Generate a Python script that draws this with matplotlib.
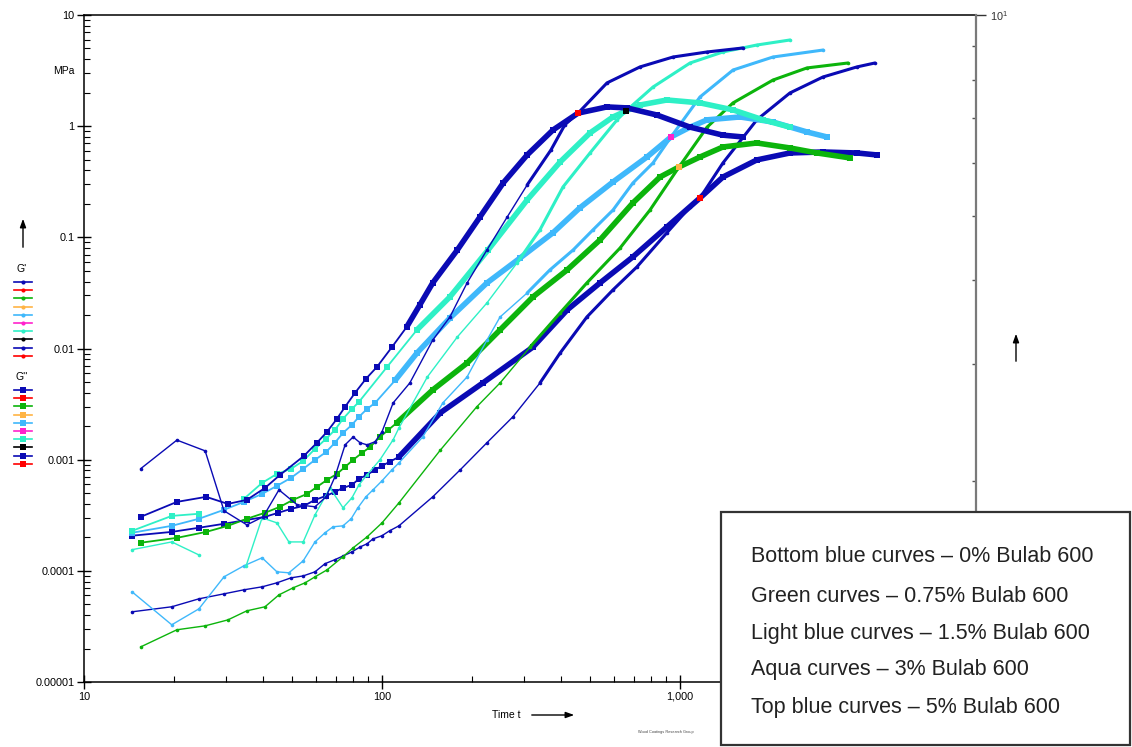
import numpy as np
import matplotlib
matplotlib.use('Agg')
import matplotlib.pyplot as plt
from matplotlib.lines import Line2D
from matplotlib.patches import Rectangle

plt.rcParams['font.family'] = ['Liberation Sans', 'DejaVu Sans']
plt.rcParams['mathtext.default'] = 'regular'

DARK_BLUE = '#0a0ab4'
GREEN = '#0cb40c'
LIGHT_BLUE = '#3fb8fb'
AQUA = '#2ef0c6'

# ---- 0% Bulab 600 (bottom blue) ----
t_0_Gp = [14.5, 19.7, 24.3, 29.5, 34.4, 39.6, 44.4, 49.5, 54.4, 59.6, 64.4, 69.5, 74.0, 79.3,
          84.4, 89.1, 93.3, 100, 106, 114, 148, 183, 225, 275, 339, 396, 487, 596, 717, 904,
          1081, 1167, 1394, 1811, 2339, 3020, 3923, 4508]
G_0_Gp = [4.28e-5, 4.75e-5, 5.6e-5, 6.21e-5, 6.75e-5, 7.18e-5, 7.8e-5, 8.65e-5, 9.0e-5, 9.8e-5,
          1.16e-4, 1.26e-4, 1.36e-4, 1.48e-4, 1.64e-4, 1.75e-4, 1.94e-4, 2.07e-4, 2.29e-4, 2.54e-4,
          4.63e-4, 8.1e-4, 1.42e-3, 2.43e-3, 4.9e-3, 9.1e-3, 0.0192, 0.0337, 0.0542, 0.110,
          0.188, 0.226, 0.467, 1.14, 1.99, 2.77, 3.41, 3.70]
t_0_Gpp = [14.5, 19.7, 24.3, 29.5, 35.2, 40.5, 44.9, 49.5, 54.7, 59.6, 64.9, 69.5, 74.0, 79.3,
           83.7, 89.1, 94.8, 100, 106, 114, 157, 218, 321, 418, 539, 695, 904, 1167, 1394, 1811,
           2339, 3020, 3923, 4577]
G_0_Gpp = [2.07e-4, 2.24e-4, 2.44e-4, 2.65e-4, 2.87e-4, 3.06e-4, 3.33e-4, 3.61e-4, 3.84e-4, 4.35e-4,
           4.72e-4, 5.13e-4, 5.57e-4, 5.93e-4, 6.72e-4, 7.3e-4, 8.1e-4, 8.8e-4, 9.55e-4, 1.06e-3,
           2.64e-3, 4.9e-3, 0.0103, 0.0222, 0.0389, 0.0667, 0.124, 0.226, 0.349, 0.497,
           0.574, 0.586, 0.574, 0.551]

# ---- 0.75% Bulab 600 (green) ----
t_075_Gp = [15.5, 20.5, 25.5, 30.4, 35.2, 40.5, 45.1, 50.3, 55.2, 59.6, 65.4, 74.0, 80.0, 89.1,
            100, 114, 157, 208, 249, 314, 396, 487, 629, 793, 993, 1233, 1507, 2052, 2667, 3661]
G_075_Gp = [2.07e-5, 2.95e-5, 3.2e-5, 3.62e-5, 4.37e-5, 4.75e-5, 6.08e-5, 7.03e-5, 7.8e-5, 8.83e-5,
            1.02e-4, 1.34e-4, 1.61e-4, 2.02e-4, 2.7e-4, 4.09e-4, 1.22e-3, 2.99e-3, 4.9e-3, 0.0103,
            0.0209, 0.0389, 0.080, 0.176, 0.430, 0.98, 1.62, 2.60, 3.34, 3.70]
t_075_Gpp = [15.5, 20.5, 25.7, 30.4, 35.2, 40.5, 45.5, 50.3, 56.0, 60.5, 65.4, 70.6, 75.2, 80.0,
             85.7, 91.2, 98.4, 105, 112, 148, 193, 249, 321, 418, 539, 695, 857, 993, 1167, 1394,
             1811, 2339, 2883, 3718]
G_075_Gpp = [1.79e-4, 1.98e-4, 2.24e-4, 2.54e-4, 2.94e-4, 3.33e-4, 3.77e-4, 4.35e-4, 4.92e-4, 5.69e-4,
             6.58e-4, 7.45e-4, 8.61e-4, 9.96e-4, 1.15e-3, 1.30e-3, 1.60e-3, 1.85e-3, 2.14e-3, 4.24e-3,
             7.4e-3, 0.0147, 0.0291, 0.0509, 0.0948, 0.204, 0.349, 0.430, 0.528, 0.650,
             0.706, 0.637, 0.574, 0.518]

# ---- 1.5% Bulab 600 (light blue) ----
t_15_Gp = [14.5, 19.7, 24.3, 29.5, 34.4, 39.6, 44.4, 48.7, 54.4, 59.6, 64.4, 68.5, 74.0, 78.8,
           83.0, 88.3, 93.3, 100, 108, 114, 137, 160, 193, 225, 249, 307, 366, 438, 511, 596,
           695, 812, 933, 1167, 1507, 2052, 3020]
G_15_Gp = [6.47e-5, 3.27e-5, 4.55e-5, 8.83e-5, 1.11e-4, 1.31e-4, 9.8e-5, 9.6e-5, 1.23e-4, 1.82e-4,
           2.2e-4, 2.49e-4, 2.54e-4, 2.94e-4, 3.69e-4, 4.63e-4, 5.35e-4, 6.45e-4, 8.1e-4, 9.36e-4,
           1.60e-3, 3.24e-3, 5.55e-3, 0.0119, 0.0192, 0.0316, 0.0509, 0.077, 0.117, 0.176,
           0.308, 0.467, 0.80, 1.83, 3.20, 4.19, 4.84]
t_15_Gpp = [14.5, 19.7, 24.3, 29.5, 34.4, 39.6, 44.4, 49.5, 54.4, 59.6, 64.9, 69.5, 74.0, 79.3,
            83.7, 89.1, 94.8, 111, 131, 169, 225, 291, 375, 461, 596, 775, 933, 1081, 1233, 1589,
            2052, 2667, 3113]
G_15_Gpp = [2.2e-4, 2.54e-4, 2.94e-4, 3.54e-4, 4.17e-4, 4.92e-4, 5.81e-4, 6.86e-4, 8.26e-4, 9.96e-4,
            1.17e-3, 1.42e-3, 1.74e-3, 2.06e-3, 2.43e-3, 2.86e-3, 3.24e-3, 5.22e-3, 9.1e-3, 0.0188,
            0.0389, 0.0653, 0.110, 0.184, 0.315, 0.528, 0.80, 0.98, 1.14, 1.21,
            1.09, 0.887, 0.80]

# ---- 3% Bulab 600 (aqua) ----
t_3_Gp = [14.5, 19.7, 24.3, np.nan, 35.0, 39.6, 44.4, 48.7, 54.4, 59.6, 66.9, 74.0, 79.3, 83.7,
          89.1, 98.4, 109, 114, 142, 179, 225, 284, 339, 405, 499, 615, 659, 812, 1081, 1394,
          1811, 2339]
G_3_Gp = [1.55e-4, 1.82e-4, 1.39e-4, np.nan, 1.11e-4, 3.0e-4, 2.7e-4, 1.82e-4, 1.82e-4, 3.19e-4,
          5.57e-4, 3.69e-4, 4.54e-4, 5.93e-4, 7.3e-4, 9.96e-4, 1.51e-3, 1.93e-3, 5.55e-3, 0.0127,
          0.0257, 0.0589, 0.117, 0.284, 0.574, 1.14, 1.37, 2.25, 3.70, 4.65,
          5.37, 5.96]
t_3_Gpp = [14.5, 19.7, 24.3, np.nan, 34.4, 39.6, 44.4, 49.5, 54.4, 59.6, 64.9, 69.5, 74.0, 79.3,
           83.7, 104, 131, 169, 227, 307, 396, 499, 596, 659, 734, 904, 1167, 1507, 1901, 2339]
G_3_Gpp = [2.29e-4, 3.12e-4, 3.26e-4, np.nan, 4.44e-4, 6.18e-4, 7.45e-4, 8.26e-4, 9.75e-4, 1.25e-3,
           1.54e-3, 1.85e-3, 2.33e-3, 2.86e-3, 3.31e-3, 6.83e-3, 0.0147, 0.0291, 0.077, 0.217,
           0.476, 0.869, 1.21, 1.37, 1.55, 1.72, 1.62, 1.40, 1.14, 0.98]

# ---- 5% Bulab 600 (top blue) ----
t_5_Gp = [15.5, 20.5, 25.5, 29.5, 35.2, 39.9, 45.1, 51.9, 59.6, 64.9, 69.5, 75.2, 80.0, 84.4,
          89.1, 94.8, 100, 109, 124, 148, 169, 193, 225, 263, 307, 369, 411, 455, 569, 734,
          948, 1233, 1626]
G_5_Gp = [8.3e-4, 1.5e-3, 1.2e-3, 3.47e-4, 2.59e-4, 3.06e-4, 5.35e-4, 3.93e-4, 3.77e-4, 4.63e-4,
          7.0e-4, 1.36e-3, 1.60e-3, 1.42e-3, 1.36e-3, 1.45e-3, 1.78e-3, 3.24e-3, 4.9e-3, 0.0119,
          0.0192, 0.0389, 0.077, 0.152, 0.296, 0.611, 1.03, 1.31, 2.45, 3.41,
          4.19, 4.65, 5.05]
t_5_Gpp = [15.5, 20.5, 25.7, 30.4, 35.2, 40.5, 45.5, 54.7, 60.5, 65.4, 70.6, 75.2, 81.2, 88.3,
           96.2, 108, 121, 134, 148, 179, 213, 255, 307, 375, 455, 569, 664, 837, 1081, 1394, 1626]
G_5_Gpp = [3.06e-4, 4.17e-4, 4.63e-4, 4.0e-4, 4.35e-4, 5.57e-4, 7.3e-4, 1.08e-3, 1.42e-3, 1.78e-3,
           2.33e-3, 2.99e-3, 3.99e-3, 5.33e-3, 6.83e-3, 0.0103, 0.0156, 0.0247, 0.0389, 0.077,
           0.152, 0.308, 0.551, 0.925, 1.31, 1.49, 1.46, 1.26, 0.98, 0.83, 0.80]

# crossover points G' = G''
cross_t = [1167, 993, 933, 659, 455]
cross_G = [0.226, 0.430, 0.80, 1.37, 1.31]
cross_colors = ['#ff0000', '#ffb444', '#ff22cc', '#000000', '#ff0000']

legend_colors = [DARK_BLUE, '#ff0000', GREEN, '#ffb444', LIGHT_BLUE, '#ff22cc', AQUA, '#000000',
                 DARK_BLUE, '#ff0000']

box_lines = ['Bottom blue curves \u2013 0% Bulab 600',
             'Green curves \u2013 0.75% Bulab 600',
             'Light blue curves \u2013 1.5% Bulab 600',
             'Aqua curves \u2013 3% Bulab 600',
             'Top blue curves \u2013 5% Bulab 600']

W, H = 1132, 747
fig = plt.figure(figsize=(W / 100, H / 100), dpi=100)
ax = fig.add_axes([84 / W, 1 - 682 / H, (976 - 84) / W, (682 - 15) / H])
ax.set_xscale('log')
ax.set_yscale('log')
ax.set_xlim(10, 9850)
ax.set_ylim(1e-5, 10)


def draw(t, g, color, gpp):
    t = np.array(t, float)
    g = np.array(g, float)
    if gpp:
        ax.plot(t, g, color=color, lw=1.3, marker='s', ms=4.5, mew=0, zorder=3)
        m = t >= 110
        ax.plot(t[m], g[m], color=color, lw=4.0, solid_capstyle='round', zorder=3)
    else:
        ax.plot(t, g, color=color, lw=1.0, marker='o', ms=2.6, mew=0, zorder=3)
        m = t >= 280
        ax.plot(t[m], g[m], color=color, lw=2.2, solid_capstyle='round', zorder=3)


draw(t_0_Gp, G_0_Gp, DARK_BLUE, False)
draw(t_0_Gpp, G_0_Gpp, DARK_BLUE, True)
draw(t_075_Gp, G_075_Gp, GREEN, False)
draw(t_075_Gpp, G_075_Gpp, GREEN, True)
draw(t_15_Gp, G_15_Gp, LIGHT_BLUE, False)
draw(t_15_Gpp, G_15_Gpp, LIGHT_BLUE, True)
draw(t_3_Gp, G_3_Gp, AQUA, False)
draw(t_3_Gpp, G_3_Gpp, AQUA, True)
draw(t_5_Gp, G_5_Gp, DARK_BLUE, False)
draw(t_5_Gpp, G_5_Gpp, DARK_BLUE, True)
for tc, gc, cc in zip(cross_t, cross_G, cross_colors):
    ax.plot([tc], [gc], marker='s', ms=5, color=cc, mew=0, ls='none', zorder=4)

# axes styling
ax.set_xticks([10, 100, 1000])
ax.set_xticklabels(['10', '100', '1,000'])
ax.set_yticks([1e-5, 1e-4, 1e-3, 1e-2, 0.1, 1, 10])
ax.set_yticklabels(['0.00001', '0.0001', '0.001', '0.01', '0.1', '1', '10'])
ax.tick_params(which='major', direction='inout', length=10, width=1, labelsize=7.8, pad=2)
ax.tick_params(which='minor', direction='in', length=4, width=0.8)
ax.tick_params(axis='y', which='both', right=False)
ax.tick_params(axis='x', which='both', top=False)
for s in ['left', 'bottom', 'top']:
    ax.spines[s].set_linewidth(1.1)
ax.spines['right'].set_visible(False)

ax2 = ax.twinx()
ax2.set_yscale('log')
ax2.set_ylim(1, 10)
for s in ['left', 'bottom', 'top']:
    ax2.spines[s].set_visible(False)
ax2.spines['right'].set_color('#7a7a7a')
ax2.spines['right'].set_linewidth(1.6)
ax2.set_yticks([10])
ax2.set_yticklabels(['$10^1$'])
ax2.tick_params(which='major', direction='out', length=7, width=1, colors='#333333', labelsize=7.8, pad=3)
ax2.tick_params(which='minor', direction='in', length=3, width=1, color='#555555')
ax2.yaxis.set_minor_formatter(matplotlib.ticker.NullFormatter())

# texts around the axes
fig.text(64 / W, 1 - 71 / H, 'MPa', fontsize=7.5, ha='center', va='center')
fig.text(22 / W, 1 - 269 / H, "G'", fontsize=7.5, ha='center', va='center')
fig.text(22 / W, 1 - 377 / H, "G''", fontsize=7.5, ha='center', va='center')
fig.text(492 / W, 1 - 715 / H, 'Time t', fontsize=7.5, ha='left', va='center')
fig.text(666 / W, 1 - 732 / H, 'Wood Coatings Research Group', fontsize=2.8, ha='center', va='center',
         color='#444444')

arrow = dict(arrowstyle='-|>,head_length=0.5,head_width=0.18', color='black', lw=1.0)
fig.add_artist(matplotlib.patches.FancyArrowPatch((23 / W, 1 - 250 / H), (23 / W, 1 - 216 / H),
                                                  transform=fig.transFigure, mutation_scale=10, **arrow))
fig.add_artist(matplotlib.patches.FancyArrowPatch((1016 / W, 1 - 364 / H), (1016 / W, 1 - 331 / H),
                                                  transform=fig.transFigure, mutation_scale=10, **arrow))
fig.add_artist(matplotlib.patches.FancyArrowPatch((529 / W, 1 - 715 / H), (577 / W, 1 - 715 / H),
                                                  transform=fig.transFigure, mutation_scale=10, **arrow))

# side legend: G' (dots) and G'' (squares)
for i, c in enumerate(legend_colors):
    for y0, mk, ms in [(282, 'o', 3), (390, 's', 5)]:
        y = 1 - (y0 + i * 8.2) / H
        fig.add_artist(Line2D([14 / W, 32 / W], [y, y], color=c, lw=1.2, transform=fig.transFigure))
        fig.add_artist(Line2D([23 / W], [y], color=c, marker=mk, ms=ms, mew=0, transform=fig.transFigure))

# explanation box
fig.add_artist(Rectangle((721 / W, 1 - 745 / H), (1130 - 721) / W, (745 - 512) / H,
                         transform=fig.transFigure, facecolor='white', edgecolor='#333333',
                         lw=1.6, zorder=5))
for i, line in enumerate(box_lines):
    yc = [557, 596, 633, 670, 707][i]
    fig.text(751 / W, 1 - yc / H, line, fontsize=15.5, color='#222222', ha='left', va='center', zorder=6)

fig.savefig('out.png', dpi=100)
